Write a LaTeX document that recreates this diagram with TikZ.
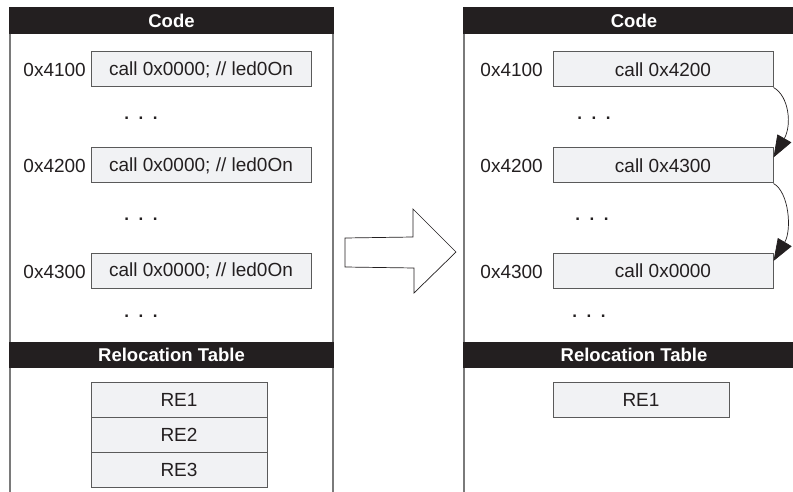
\documentclass[tikz,border=0pt]{standalone}
\usepackage{fontspec}
\setmainfont{Liberation Sans}
\usetikzlibrary{arrows.meta}
\definecolor{ink}{HTML}{231F20}
\definecolor{boxfill}{HTML}{F1F2F4}
\definecolor{edge}{HTML}{5A5A5A}
\definecolor{panel}{HTML}{7A7A7A}
\tikzset{
  cell/.style={draw=edge, line width=1pt, fill=boxfill, inner sep=0pt,
    minimum height=35pt, font=\fontsize{19}{22}\selectfont, text=ink},
  addr/.style={anchor=east, inner sep=0pt, font=\fontsize{19}{22}\selectfont, text=ink},
  dots/.style={inner sep=0pt, font=\bfseries\fontsize{17}{20}\selectfont, text=ink},
  hdr/.style={fill=ink, draw=none},
  hdrtext/.style={inner sep=0pt, text=white, font=\bfseries\fontsize{18.5}{22}\selectfont},
  side/.style={draw=panel, line width=1.5pt},
  jump/.style={draw=ink, line width=0.7pt, -{Triangle[length=22pt,width=16pt]}},
  bigarrow/.style={draw=ink, line width=0.7pt, fill=white, line join=miter}
}
\begin{document}
\begin{tikzpicture}[x=1pt,y=-1pt]
\useasboundingbox (0,0) rectangle (793,492);
% ---------- left panel ----------
\draw[side] (10,7) -- (10,492);
\draw[side] (333,7) -- (333,492);
\fill[hdr] (9.25,7) rectangle (333.75,34);
\node[hdrtext] (lcode) at (171.5,20.5) {Code};
\node[cell, minimum width=220pt] (l1) at (201,69.5) {call 0x0000; // led0On};
\node[cell, minimum width=220pt] (l2) at (201,165.5) {call 0x0000; // led0On};
\node[cell, minimum width=220pt] (l3) at (201,271) {call 0x0000; // led0On};
\node[addr] (la1) at (86,70) {0x4100};
\node[addr] (la2) at (86,166) {0x4200};
\node[addr] (la3) at (86,271.5) {0x4300};
\node[dots] (ld1) at (141,118) {.\ \ .\ \ .};
\node[dots] (ld2) at (141,219) {.\ \ .\ \ .};
\node[dots] (ld3) at (141,316) {.\ \ .\ \ .};
\fill[hdr] (9.25,342) rectangle (333.75,368);
\node[hdrtext] (lrel) at (171.5,355) {Relocation Table};
\node[cell, minimum width=176pt] (re1) at (179,399.5) {RE1};
\node[cell, minimum width=176pt] (re2) at (179,434.5) {RE2};
\node[cell, minimum width=176pt] (re3) at (179,469.5) {RE3};
% ---------- big arrow ----------
\draw[bigarrow] (345,238) -- (413,237) -- (413,209) -- (456,252) -- (414,293) -- (414,268) -- (345,267) -- cycle;
% ---------- right panel ----------
\draw[side] (464,7) -- (464,492);
\fill[hdr] (463.25,7) rectangle (793,34);
\node[hdrtext] (rcode) at (634,20.5) {Code};
\node[cell, minimum width=220pt] (r1) at (663,69.5) {call 0x4200};
\node[cell, minimum width=220pt] (r2) at (663,165.5) {call 0x4300};
\node[cell, minimum width=220pt] (r3) at (663,271) {call 0x0000};
\node[addr] (ra1) at (543,70) {0x4100};
\node[addr] (ra2) at (543,166) {0x4200};
\node[addr] (ra3) at (543,271.5) {0x4300};
\node[dots] (rd1) at (594,118) {.\ \ .\ \ .};
\node[dots] (rd2) at (592,219) {.\ \ .\ \ .};
\node[dots] (rd3) at (589,316) {.\ \ .\ \ .};
\fill[hdr] (463.25,342) rectangle (793,368);
\node[hdrtext] (rrel) at (634,355) {Relocation Table};
\node[cell, minimum width=176pt] (rre1) at (641,399.5) {RE1};
% ---------- relocation jumps ----------
\draw[jump] (r1.south east) .. controls (789,96) and (792,125) .. ([yshift=-10pt]r2.north east);
\draw[jump] (r2.south east) .. controls (789,192) and (792,230) .. ([yshift=-8pt]r3.north east);
\end{tikzpicture}
\end{document}
